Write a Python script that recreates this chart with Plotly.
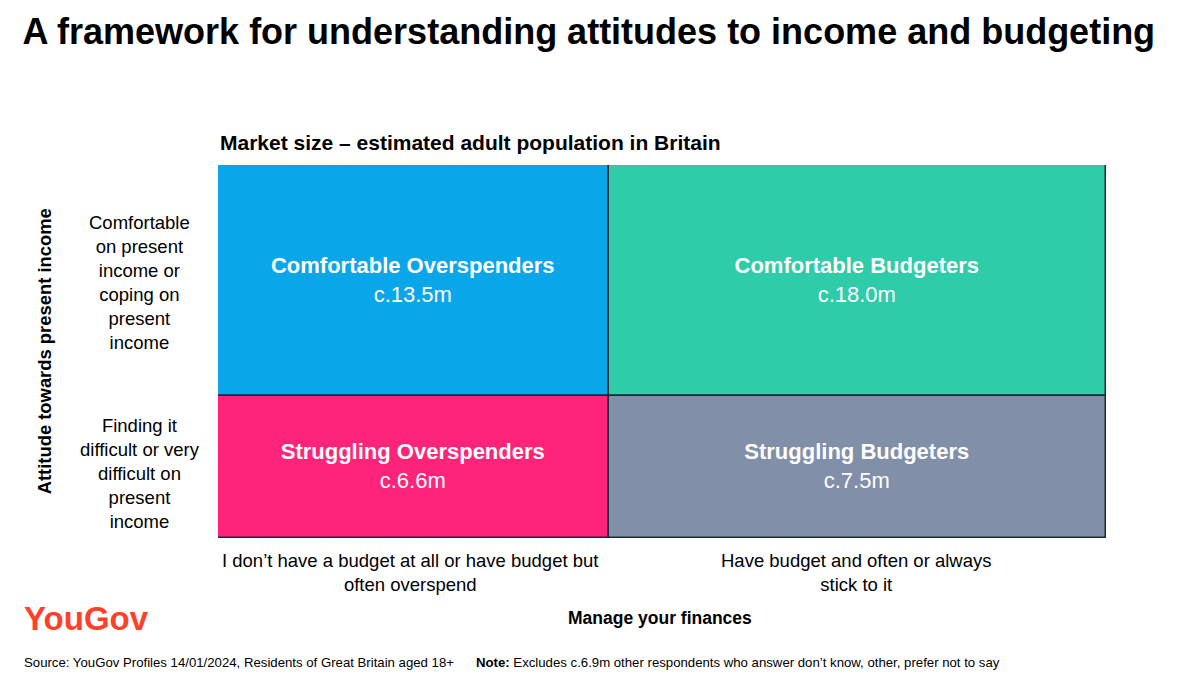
import plotly.graph_objects as go

# Data ------------------------------------------------------------------------
segments = ["Comfortable Overspenders", "Comfortable Budgeters",
            "Struggling Overspenders", "Struggling Budgeters"]
sizes = [13.5, 18.0, 6.6, 7.5]  # millions
size_labels = ["c.13.5m", "c.18.0m", "c.6.6m", "c.7.5m"]
colors = ["#0AA6EA", "#2ECCA8", "#FF2479", "#8190A8"]

col_totals = [sizes[0] + sizes[2], sizes[1] + sizes[3]]
col_left = [0, col_totals[0]]
row_top_share = 0.62

fig = go.Figure()
for i, seg in enumerate(segments):
    col = i % 2
    top = i < 2
    fig.add_trace(go.Bar(
        x=[col_left[col] + col_totals[col] / 2],
        y=[row_top_share if top else 1 - row_top_share],
        base=[1 - row_top_share if top else 0],
        width=[col_totals[col]],
        marker=dict(color=colors[i], line=dict(color="#1a2a3a", width=1.5)),
        text=[f"<b>{seg}</b><br>{size_labels[i]}"],
        textposition="inside", insidetextanchor="middle",
        textfont=dict(color="white", size=22, family="Liberation Sans"),
        hoverinfo="skip", showlegend=False,
    ))

total = sum(col_totals)
fig.update_xaxes(range=[0, total], visible=False)
fig.update_yaxes(range=[0, 1], visible=False)

F = "Liberation Sans"
ann = []
def add(text, x, y, size=18.5, bold=False, color="black", xa="center", ya="middle", **kw):
    ann.append(dict(text=f"<b>{text}</b>" if bold else text, x=x, y=y, xref="paper", yref="paper",
                    showarrow=False, xanchor=xa, yanchor=ya,
                    font=dict(family=F, size=size, color=color), **kw))

add("Market size – estimated adult population in Britain", 0, 1.059, 21, True, xa="left")
add("Comfortable<br>on present<br>income or<br>coping on<br>present<br>income", -0.088, 0.684)
add("Finding it<br>difficult or very<br>difficult on<br>present<br>income", -0.088, 0.174)
add("Attitude towards present income", -0.195, 0.5, 18.4, True, textangle=-90)
add("I don’t have a budget at all or have budget but<br>often overspend", 0.216, -0.027, ya="top")
add("Have budget and often or always<br>stick to it", 0.718, -0.027, ya="top")
add("Manage your finances", 0.498, -0.214, 17.5, True)
add("<b>YouGov</b>", -0.221, -0.217, 33, color="#FF412C", xa="left")
add("Source: YouGov Profiles 14/01/2024, Residents of Great Britain aged 18+", -0.221, -0.335, 13.2, xa="left")
add("<b>Note:</b> Excludes c.6.9m other respondents who answer don’t know, other, prefer not to say",
    0.288, -0.335, 13.2, xa="left")

fig.update_layout(
    width=1200, height=687, bargap=0, barmode="overlay",
    margin=dict(l=210, r=102, t=157, b=157),
    plot_bgcolor="white", paper_bgcolor="white",
    annotations=ann,
    title=dict(text="<b>A framework for understanding attitudes to income and budgeting</b>",
               x=0.012, xanchor="left", y=0.966, yanchor="middle",
               font=dict(family=F, size=36, color="black")),
)

fig.write_html("out.html")
